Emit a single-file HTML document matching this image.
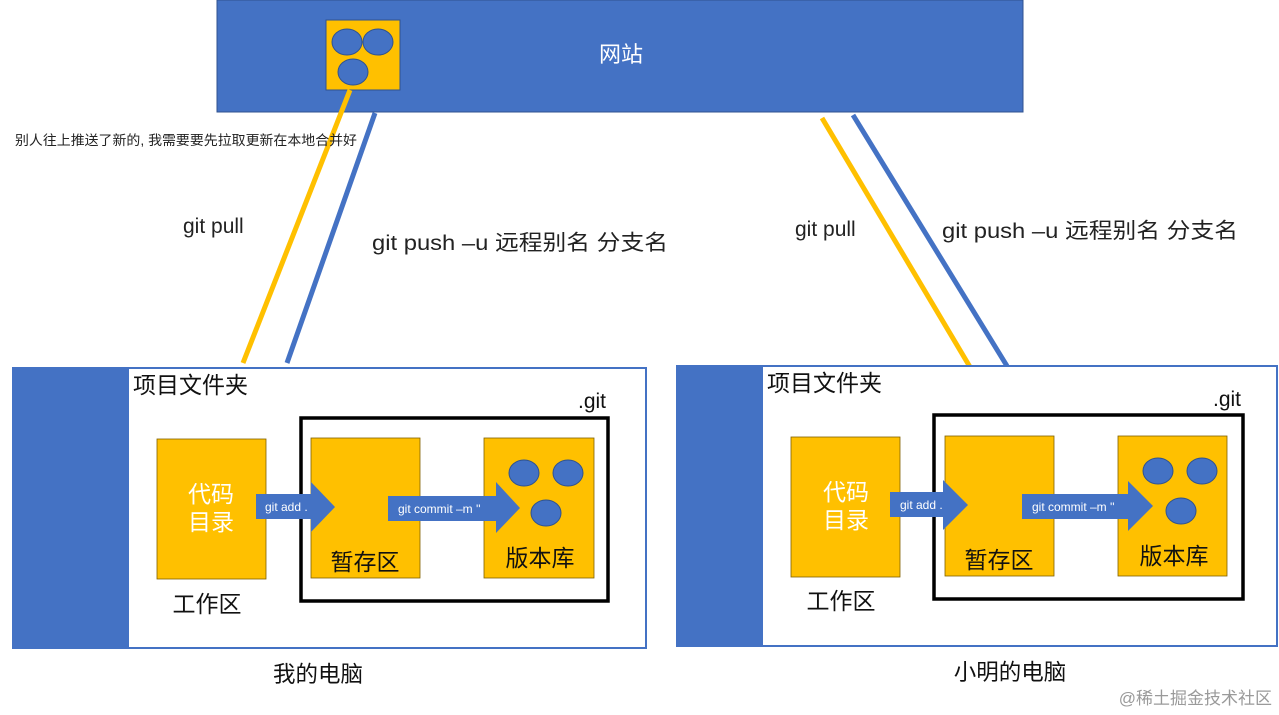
<!DOCTYPE html>
<html><head><meta charset="utf-8"><style>
html,body{margin:0;padding:0;background:#fff;width:1279px;height:715px;overflow:hidden}
text{font-family:"Liberation Sans","Noto Sans CJK SC",sans-serif}
</style></head><body>
<svg width="1279" height="715" viewBox="0 0 1279 715" xmlns="http://www.w3.org/2000/svg">
<!-- banner -->
<rect x="217" y="0" width="806" height="112" fill="#4472C4" stroke="#2F528F" stroke-width="1"/>
<rect x="326" y="20" width="74" height="70" fill="#FFC000" stroke="#2F528F" stroke-width="1"/>
<ellipse cx="347" cy="42" rx="15" ry="13" fill="#4472C4" stroke="#2F528F"/>
<ellipse cx="378" cy="42" rx="15" ry="13" fill="#4472C4" stroke="#2F528F"/>
<ellipse cx="353" cy="72" rx="15" ry="13" fill="#4472C4" stroke="#2F528F"/>
<text x="621" y="62" fill="#fff" font-size="22" text-anchor="middle">网站</text>
<!-- lines -->
<line x1="350" y1="90" x2="243" y2="363" stroke="#FFC000" stroke-width="5"/>
<line x1="375" y1="113" x2="287" y2="363" stroke="#4472C4" stroke-width="5"/>
<line x1="822" y1="118" x2="970" y2="367" stroke="#FFC000" stroke-width="5"/>
<line x1="853" y1="115" x2="1007" y2="366" stroke="#4472C4" stroke-width="5"/>
<text x="15" y="145" font-size="13.5" fill="#222" textLength="342" lengthAdjust="spacingAndGlyphs">别人往上推送了新的, 我需要要先拉取更新在本地合并好</text>
<text x="183" y="233" font-size="21" fill="#222">git pull</text>
<text x="372" y="250" font-size="21.5" fill="#222" textLength="296" lengthAdjust="spacingAndGlyphs">git push –u 远程别名 分支名</text>
<text x="795" y="236" font-size="21" fill="#222">git pull</text>
<text x="942" y="238" font-size="21.5" fill="#222" textLength="296" lengthAdjust="spacingAndGlyphs">git push –u 远程别名 分支名</text>

<!-- left computer -->
<rect x="13" y="368" width="633" height="280" fill="#fff" stroke="#4472C4" stroke-width="2"/>
<rect x="13" y="368" width="116" height="280" fill="#4472C4"/>
<text x="133" y="393" font-size="23" fill="#111">项目文件夹</text>
<text x="578" y="408" font-size="21" fill="#111">.git</text>
<rect x="301" y="418" width="307" height="183" fill="none" stroke="#000" stroke-width="3.5"/>
<rect x="157" y="439" width="109" height="140" fill="#FFC000" stroke="#7F6000" stroke-width="0.8"/>
<rect x="311" y="438" width="109" height="140" fill="#FFC000" stroke="#7F6000" stroke-width="0.8"/>
<rect x="484" y="438" width="110" height="140" fill="#FFC000" stroke="#7F6000" stroke-width="0.8"/>
<text x="211" y="502" font-size="23" fill="#fff" text-anchor="middle">代码</text>
<text x="211" y="530" font-size="23" fill="#fff" text-anchor="middle">目录</text>
<text x="365" y="570" font-size="23" fill="#111" text-anchor="middle">暂存区</text>
<text x="540" y="566" font-size="23" fill="#111" text-anchor="middle">版本库</text>
<ellipse cx="524" cy="473" rx="15" ry="13" fill="#4472C4" stroke="#2F528F"/>
<ellipse cx="568" cy="473" rx="15" ry="13" fill="#4472C4" stroke="#2F528F"/>
<ellipse cx="546" cy="513" rx="15" ry="13" fill="#4472C4" stroke="#2F528F"/>
<polygon points="256,494 311,494 311,482 335,507 311,532 311,519 256,519" fill="#4472C4"/>
<text x="265" y="511" font-size="12" fill="#fff">git add .</text>
<polygon points="388,496 496,496 496,482 520,508 496,533 496,521 388,521" fill="#4472C4"/>
<text x="398" y="513" font-size="12" fill="#fff">git  commit –m ''</text>
<text x="207" y="612" font-size="23" fill="#111" text-anchor="middle">工作区</text>
<text x="318" y="682" font-size="22.5" fill="#111" text-anchor="middle">我的电脑</text>

<!-- right computer -->
<rect x="677" y="366" width="600" height="280" fill="#fff" stroke="#4472C4" stroke-width="2"/>
<rect x="677" y="366" width="86" height="280" fill="#4472C4"/>
<text x="767" y="391" font-size="23" fill="#111">项目文件夹</text>
<text x="1213" y="406" font-size="21" fill="#111">.git</text>
<rect x="934" y="415" width="309" height="184" fill="none" stroke="#000" stroke-width="3.5"/>
<rect x="791" y="437" width="109" height="140" fill="#FFC000" stroke="#7F6000" stroke-width="0.8"/>
<rect x="945" y="436" width="109" height="140" fill="#FFC000" stroke="#7F6000" stroke-width="0.8"/>
<rect x="1118" y="436" width="109" height="140" fill="#FFC000" stroke="#7F6000" stroke-width="0.8"/>
<text x="846" y="500" font-size="23" fill="#fff" text-anchor="middle">代码</text>
<text x="846" y="528" font-size="23" fill="#fff" text-anchor="middle">目录</text>
<text x="999" y="568" font-size="23" fill="#111" text-anchor="middle">暂存区</text>
<text x="1174" y="564" font-size="23" fill="#111" text-anchor="middle">版本库</text>
<ellipse cx="1158" cy="471" rx="15" ry="13" fill="#4472C4" stroke="#2F528F"/>
<ellipse cx="1202" cy="471" rx="15" ry="13" fill="#4472C4" stroke="#2F528F"/>
<ellipse cx="1181" cy="511" rx="15" ry="13" fill="#4472C4" stroke="#2F528F"/>
<polygon points="890,492 943,492 943,480 968,505 943,530 943,517 890,517" fill="#4472C4"/>
<text x="900" y="509" font-size="12" fill="#fff">git add .</text>
<polygon points="1022,494 1128,494 1128,481 1153,506 1128,531 1128,519 1022,519" fill="#4472C4"/>
<text x="1032" y="511" font-size="12" fill="#fff">git  commit –m ''</text>
<text x="841" y="609" font-size="23" fill="#111" text-anchor="middle">工作区</text>
<text x="1010" y="680" font-size="22.5" fill="#111" text-anchor="middle">小明的电脑</text>

<text x="1272" y="704" font-size="17" fill="#9a9a9a" text-anchor="end">@稀土掘金技术社区</text>
</svg>
</body></html>
